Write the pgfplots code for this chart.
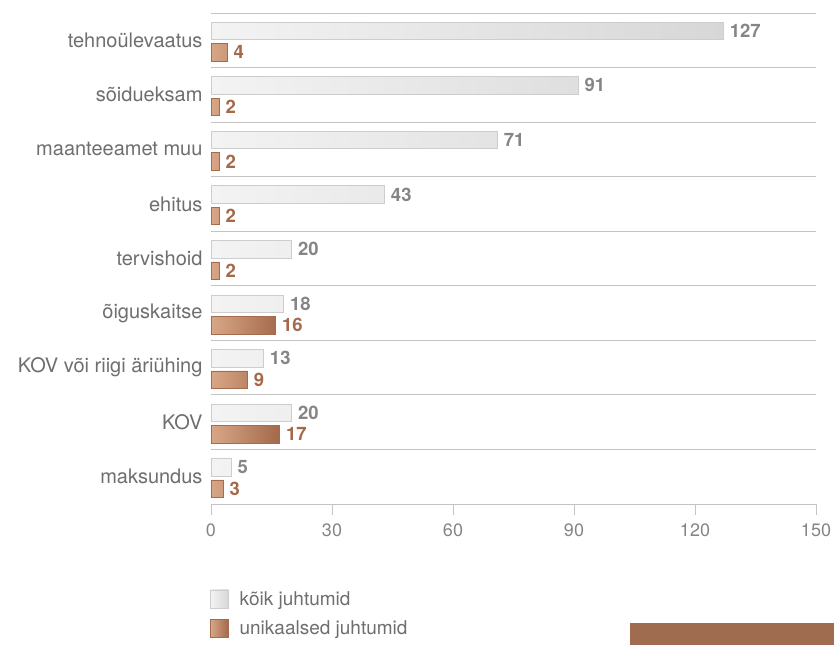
\documentclass[border=0pt]{standalone}
\usepackage{fontspec}
\setmainfont{TeX Gyre Heros}
\usepackage{pgfplots}
\pgfplotsset{compat=1.18}

\definecolor{txtgray}{HTML}{6E6E6E}
\definecolor{valgray}{HTML}{858585}
\definecolor{linecol}{HTML}{C4C4C4}
\definecolor{graylt}{HTML}{F3F3F4}
\definecolor{graydk}{HTML}{D7D7D8}
\definecolor{graybord}{HTML}{CDCDCF}
\definecolor{brownlt}{HTML}{D8A787}
\definecolor{browndk}{HTML}{A2694A}
\definecolor{brownbord}{HTML}{A56B4C}
\definecolor{valbrown}{HTML}{A5694A}
\definecolor{decbrown}{HTML}{A06C50}

\begin{document}
\begin{tikzpicture}[x=1pt,y=1pt]
\path[use as bounding box] (0,0) rectangle (834,645);
\begin{axis}[
    at={(211pt,141pt)}, anchor=south west,
    scale only axis, width=605pt, height=491pt,
    xmin=0, xmax=150, ymin=-0.5, ymax=8.5,
    font=\fontsize{20}{24}\selectfont,
    /pgf/number format/assume math mode=true,
    xbar,
    legend image code/.code={\draw[#1,/tikz/.cd] (0pt,-9pt) rectangle (18pt,9pt);},
    axis x line*=bottom, axis y line*=left,
    x axis line style={linecol, line width=0.8pt, -},
    y axis line style={draw=none},
    xtick={0,30,...,150},
    xtick align=outside,
    major tick length=11pt,
    minor tick length=0pt,
    xtick style={linecol, line width=0.8pt},
    ytick style={draw=none},
    xticklabel style={text=valgray, font=\fontsize{18}{21}\selectfont, yshift=-5pt},
    ytick={0,...,8},
    yticklabels={maksundus, KOV, KOV või riigi äriühing, õiguskaitse, tervishoid, ehitus, maanteeamet muu, sõidueksam, tehnoülevaatus},
    yticklabel style={text=txtgray, xshift=6pt},
    minor ytick={-0.5,0.5,...,8.5},
    yminorgrids,
    minor grid style={linecol, line width=0.8pt},
    legend style={at={(axis description cs:0,0)}, anchor=north west,
        xshift=-4pt, yshift=-83pt, draw=none, fill=none,
        text=txtgray, row sep=10pt, font=\fontsize{19}{22}\selectfont,
        nodes={inner xsep=11pt}},
    legend cell align=left,
    clip=false,
]
\addplot[xbar, bar width=17.5pt, bar shift=9.5pt,
    draw=graybord, left color=graylt, right color=graydk,
    nodes near coords,
    nodes near coords style={font=\fontsize{18.5}{21}\selectfont\bfseries, text=valgray, anchor=west, xshift=3pt}]
coordinates {
    (127,8) (91,7) (71,6) (43,5) (20,4) (18,3) (13,2) (20,1) (5,0)
};
\addlegendentry{kõik juhtumid}
\addplot[xbar, bar width=17.5pt, bar shift=-12pt,
    draw=brownbord, left color=brownlt, right color=browndk,
    nodes near coords,
    nodes near coords style={font=\fontsize{18.5}{21}\selectfont\bfseries, text=valbrown, anchor=west, xshift=3pt}]
coordinates {
    (4,8) (2,7) (2,6) (2,5) (2,4) (16,3) (9,2) (17,1) (3,0)
};
\addlegendentry{unikaalsed juhtumid}
\end{axis}
\fill[decbrown] (630,0) rectangle (834,22);
\end{tikzpicture}
\end{document}
